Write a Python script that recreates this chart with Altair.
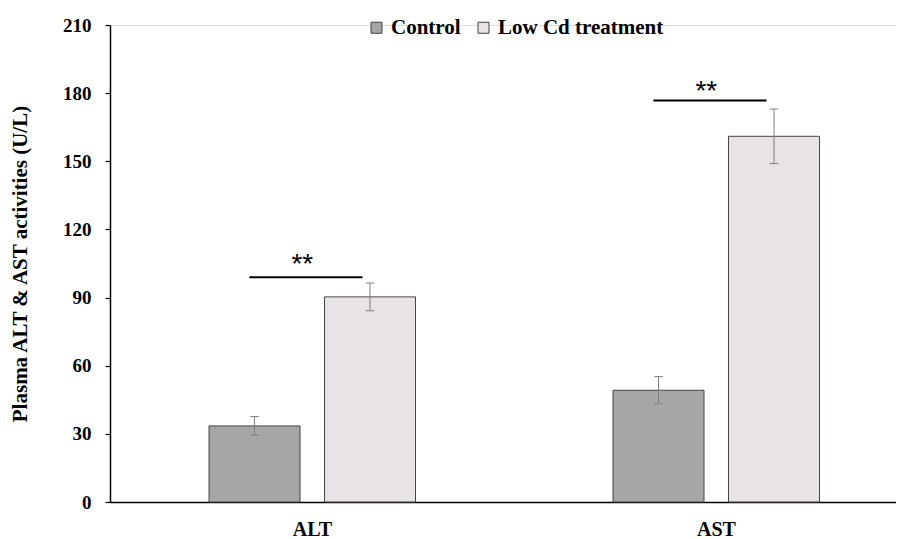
import altair as alt
import pandas as pd

# ---- data ----
categories = ["ALT", "AST"]
groups = ["Control", "Low Cd treatment"]
control_mean = [33.5, 49.2]
control_err = [4.1, 6.0]
treat_mean = [90.3, 161.0]
treat_err = [6.1, 12.0]
sig_labels = ["**", "**"]
sig_line_y = [98.9, 176.8]
sig_text_y = [104.5, 180.5]
y_ticks = [0, 30, 60, 90, 120, 150, 180, 210]

# ---- layout constants ----
PLOT_W = 786
PLOT_H = 477
UNIT = 404.0             # pixels per category band
X_MAX = PLOT_W / UNIT
HALF_BAR = 0.1126
CAP = 0.0105
SERIF = "Liberation Serif"

rows = []
for i, c in enumerate(categories):
    rows.append(dict(cat=c, idx=i, group=groups[0], mean=control_mean[i], err=control_err[i]))
    rows.append(dict(cat=c, idx=i, group=groups[1], mean=treat_mean[i], err=treat_err[i]))
df = pd.DataFrame(rows)

sig_df = pd.DataFrame(dict(cat=categories, idx=list(range(len(categories))),
                           label=sig_labels, ly=sig_line_y, ty=sig_text_y))

xscale = alt.Scale(domain=[0, X_MAX], nice=False, zero=False)
yscale = alt.Scale(domain=[0, 210], nice=False)

label_expr = "[" + ",".join("'%s'" % c for c in categories) + "][floor(datum.value)]"

x_axis = alt.Axis(values=[i + 0.5 for i in range(len(categories))], labelExpr=label_expr,
                  ticks=False, title=None, grid=False, domainColor="black", domainWidth=1.5,
                  labelFont=SERIF, labelFontWeight="bold", labelFontSize=20, labelColor="black",
                  labelPadding=17)
y_axis = alt.Axis(values=y_ticks, grid=False, domainColor="black", domainWidth=1.5,
                  tickColor="black", tickSize=5, tickWidth=1.2,
                  labelFont=SERIF, labelFontWeight="bold", labelFontSize=19, labelColor="black",
                  labelPadding=14,
                  title="Plasma ALT & AST activities (U/L)", titleFont=SERIF,
                  titleFontWeight="bold", titleFontSize=21, titleColor="black", titlePadding=32)

base = alt.Chart(df).transform_calculate(
    xc="datum.idx + 0.5 + (datum.group === 'Control' ? -0.1423 : 0.1436)"
).transform_calculate(
    x0="datum.xc - %f" % HALF_BAR,
    x1="datum.xc + %f" % HALF_BAR,
    c0="datum.xc - %f" % CAP,
    c1="datum.xc + %f" % CAP,
    lo="datum.mean - datum.err",
    hi="datum.mean + datum.err",
)

bars = base.mark_bar(stroke="#454545", strokeWidth=1).encode(
    x=alt.X("x0:Q", scale=xscale, axis=x_axis),
    x2="x1:Q",
    y=alt.Y("mean:Q", scale=yscale, axis=y_axis),
    y2=alt.datum(0),
    color=alt.Color("group:N", scale=alt.Scale(domain=groups, range=["#a6a6a6", "#e7e3e6"]),
                    legend=alt.Legend(orient="none", legendX=256, legendY=-8, direction="horizontal",
                                      title=None, symbolType="square", symbolSize=121,
                                      symbolStrokeColor="#404040", symbolStrokeWidth=1,
                                      symbolOpacity=1, labelLimit=400,
                                      labelFont=SERIF, labelFontWeight="bold", labelFontSize=21,
                                      labelColor="black", labelOffset=4, columnPadding=12,
                                      padding=0)),
)

err = base.mark_rule(color="#7f7f7f", strokeWidth=1).encode(
    x=alt.X("xc:Q", scale=xscale), y="lo:Q", y2="hi:Q")
cap_hi = base.mark_rule(color="#7f7f7f", strokeWidth=1).encode(
    x=alt.X("c0:Q", scale=xscale), x2="c1:Q", y="hi:Q")
cap_lo = base.mark_rule(color="#7f7f7f", strokeWidth=1).encode(
    x=alt.X("c0:Q", scale=xscale), x2="c1:Q", y="lo:Q")

sig = alt.Chart(sig_df).transform_calculate(
    sx0="datum.idx + 0.345", sx1="datum.idx + 0.625", tx="datum.idx + 0.476")
sig_lines = sig.mark_rule(color="black", strokeWidth=2).encode(
    x=alt.X("sx0:Q", scale=xscale), x2="sx1:Q", y=alt.Y("ly:Q", scale=yscale))
sig_text = sig.mark_text(font="Liberation Sans", fontSize=28, color="black",
                         baseline="middle", align="center").encode(
    x=alt.X("tx:Q", scale=xscale), y=alt.Y("ty:Q", scale=yscale), text="label:N")

chart = alt.layer(bars, err, cap_hi, cap_lo, sig_lines, sig_text).properties(
    width=PLOT_W, height=PLOT_H,
    autosize=alt.AutoSizeParams(type="none"),
    padding={"left": 102, "top": 17, "right": 0, "bottom": 38},
).configure_view(stroke=None).configure(background="white")

chart.save("out.html", embed_options={"renderer": "svg", "actions": False})
